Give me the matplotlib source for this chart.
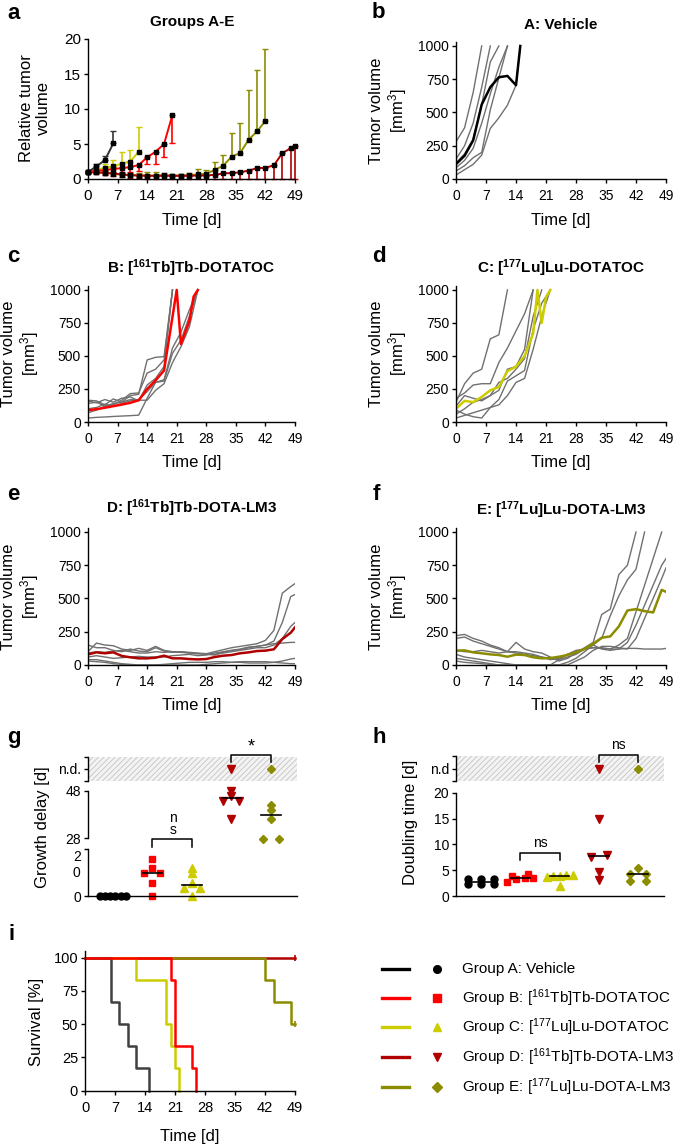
import numpy as np
import matplotlib
matplotlib.use('Agg')
import matplotlib.pyplot as plt

plt.rcParams['font.family'] = ['Liberation Sans', 'DejaVu Sans']
plt.rcParams['mathtext.fontset'] = 'custom'
plt.rcParams['mathtext.rm'] = 'Liberation Sans'
plt.rcParams['mathtext.it'] = 'Liberation Sans:italic'
plt.rcParams['mathtext.bf'] = 'Liberation Sans:bold'
plt.rcParams['hatch.linewidth'] = 0.6

W, H = 685, 1146

C_A = '#000000'
C_B = '#ff0000'
C_C = '#cccc00'
C_D = '#b00000'
C_E = '#8c8c00'
GREY = '#707070'

# ---- panel a: relative tumor volume (mean, one-sided SD) ----
a_days_A = [0, 2, 4, 6]
a_mean_A = [1.0, 1.8, 2.7, 5.1]
a_sd_A = [0.2, 0.3, 0.6, 1.8]
a_days_B = [0, 2, 4, 6, 8, 10, 12, 14, 16, 18, 20]
a_mean_B = [1.0, 1.2, 1.25, 1.45, 1.55, 1.7, 2.0, 3.1, 3.9, 5.0, 9.2]
a_sd_B = [0.2, 0.4, 0.45, 0.55, 0.6, 0.7, 0.9, 1.0, 1.8, 1.9, 4.1]
a_days_C = [0, 2, 4, 6, 8, 10, 12]
a_mean_C = [1.0, 1.3, 1.6, 1.8, 2.2, 2.5, 3.9]
a_sd_C = [0.2, 0.4, 0.6, 0.9, 1.7, 1.7, 3.5]
a_days_D = [0, 2, 4, 6, 8, 10, 12, 14, 16, 18, 20, 22, 24, 26, 28, 30, 32, 34, 36, 38, 40, 42, 44, 46, 48, 49]
a_mean_D = [1.0, 0.95, 0.9, 0.8, 0.65, 0.55, 0.5, 0.45, 0.45, 0.45, 0.45, 0.45, 0.45, 0.5, 0.5,
            0.6, 0.8, 0.85, 0.95, 1.2, 1.55, 1.6, 1.95, 3.7, 4.4, 4.75]
a_sd_D = [0.15, 0.3, 0.35, 0.4, 0.4, 0.4, 0.4, 0.4, 0.4, 0.4, 0.4, 0.4, 0.4, 0.5, 0.5,
          0.6, 0.8, 0.85, 0.95, 1.2, 1.55, 1.6, 1.95, 3.7, 4.4, 4.75]
a_days_E = [0, 2, 4, 6, 8, 10, 12, 14, 16, 18, 20, 22, 24, 26, 28, 30, 32, 34, 36, 38, 40, 42]
a_mean_E = [1.0, 0.95, 0.85, 0.75, 0.6, 0.55, 0.5, 0.5, 0.5, 0.55, 0.5, 0.5, 0.55, 0.65, 0.75,
            1.3, 1.9, 3.2, 3.7, 5.6, 6.8, 8.3]
a_sd_E = [0.1, 0.2, 0.3, 0.3, 0.3, 0.3, 0.4, 0.5, 0.5, 0.3, 0.2, 0.2, 0.3, 0.8, 0.6,
          1.1, 1.6, 3.4, 4.3, 7.1, 8.8, 10.3]

# ---- panel b: vehicle ----
b_days = [0, 2, 4, 6, 8, 10, 12, 14, 15]
b_mean = [112, 175, 290, 560, 690, 765, 775, 705, 1000]
b_mice = [
    [280, 385, 650, 1000],
    [150, 250, 420, 690, 1000],
    [120, 190, 300, 560, 880, 1000],
    [85, 140, 230, 420, 640, 840, 1000],
    [60, 100, 160, 200, 520, 760, 1000],
    [30, 70, 110, 180, 380, 460, 555, 705, 1000],
]

# ---- panel c: [161Tb]Tb-DOTATOC ----
c_days = [0, 2, 4, 6, 8, 10, 12, 14, 16, 18, 20, 22, 24, 26]
c_mean_days = [0, 2, 4, 6, 8, 10, 12, 14, 16, 18, 21, 22, 24, 25, 26]
c_mean = [90, 97, 108, 120, 132, 145, 165, 250, 315, 390, 1000, 590, 765, 950, 1000]
c_mice = [
    [165, 160, 130, 175, 150, 200, 210, 470, 490, 495, 1000],
    [140, 150, 120, 130, 165, 215, 220, 370, 400, 470, 1000],
    [160, 145, 170, 150, 180, 190, 160, 280, 330, 420, 1000],
    [100, 110, 135, 120, 140, 160, 170, 230, 300, 310, 520, 620, 800, 1000],
    [70, 90, 120, 140, 150, 170, 165, 165, 240, 290, 450, 570, 720, 1000],
    [30, 35, 38, 42, 45, 48, 52, 180, 300, 320, 560, 680, 850, 1000],
]

# ---- panel d: [177Lu]Lu-DOTATOC ----
d_days = [0, 2, 4, 6, 8, 10, 12, 14, 16, 18, 20, 22]
d_mean_days = [0, 2, 4, 6, 8, 10, 12, 14, 16, 18, 19, 20, 21, 22]
d_mean = [100, 160, 150, 190, 240, 265, 385, 420, 500, 670, 1000, 750, 945, 1000]
d_mice = [
    [150, 290, 370, 400, 630, 660, 1000],
    [180, 220, 280, 290, 290, 450, 560, 690, 820, 1000],
    [120, 200, 180, 160, 200, 240, 400, 420, 550, 1000],
    [60, 100, 150, 170, 200, 300, 330, 400, 480, 800, 1000],
    [30, 50, 70, 90, 110, 130, 200, 300, 330, 550, 800, 1000],
    [90, 60, 40, 30, 110, 170, 310, 350, 390, 700, 900, 1000],
]

# ---- panel e: [161Tb]Tb-DOTA-LM3 ----
e_days = [0, 2, 4, 6, 8, 10, 12, 14, 16, 18, 20, 22, 24, 26, 28, 30, 32, 34, 36, 38, 40, 42, 44, 46, 48, 49]
e_mean = [80, 95, 88, 95, 68, 58, 50, 50, 55, 70, 50, 50, 45, 42, 45, 60, 70, 75, 88, 95,
          105, 108, 118, 195, 243, 283]
e_mice = [
    [100, 165, 150, 145, 120, 110, 125, 110, 140, 110, 100, 100, 95, 90, 85, 100, 115, 130, 140, 150,
     160, 185, 260, 540, 590, 612],
    [150, 130, 130, 110, 100, 120, 105, 100, 130, 105, 95, 100, 90, 85, 80, 75, 95, 110, 120, 135,
     140, 150, 180, 320, 515, 530],
    [90, 100, 95, 105, 110, 100, 90, 90, 100, 95, 100, 95, 90, 85, 85, 80, 90, 100, 110, 120,
     130, 130, 150, 200, 290, 320],
    [60, 70, 60, 50, 55, 60, 65, 60, 60, 60, 70, 75, 80, 70, 75, 90, 100, 110, 115, 130,
     140, 150, 160, 165, 170, 170],
    [40, 40, 30, 20, 10, 5, 0, 0, 0, 5, 10, 15, 20, 20, 20, 25, 25, 20, 20, 15,
     15, 15, 20, 30, 45, 50],
    [30, 25, 20, 10, 5, 0, 0, 0, 0, 0, 0, 0, 0, 0, 5, 10, 15, 20, 25, 25,
     25, 25, 20, 15, 10, 10],
]

# ---- panel f: [177Lu]Lu-DOTA-LM3 ----
f_days = e_days
f_mean = [108, 110, 95, 88, 80, 75, 62, 78, 75, 58, 50, 52, 62, 75, 95, 120, 160, 205, 215, 290,
          410, 420, 405, 395, 565, 550]
f_mice = [
    [220, 230, 200, 180, 150, 130, 100, 170, 120, 100, 90, 60, 30, 50, 90, 130, 170, 380, 420, 680,
     750, 1000],
    [200, 210, 180, 160, 140, 120, 100, 90, 80, 70, 60, 50, 40, 60, 80, 120, 150, 200, 370, 520,
     640, 720, 1000],
    [110, 100, 100, 110, 100, 90, 100, 100, 90, 80, 60, 40, 50, 80, 100, 120, 130, 130, 120, 150,
     200, 400, 600, 800, 1000],
    [80, 60, 50, 40, 30, 20, 10, 0, 0, 0, 0, 0, 0, 20, 50, 100, 150, 120, 110, 120,
     170, 300, 450, 600, 750, 800],
    [50, 40, 30, 20, 10, 0, 0, 0, 0, 0, 0, 0, 0, 0, 30, 60, 110, 140, 140, 130,
     120, 200, 350, 500, 650, 730],
    [30, 20, 15, 10, 5, 0, 0, 0, 0, 0, 0, 0, 40, 80, 110, 120, 130, 125, 120, 120,
     125, 125, 120, 120, 120, 125],
]

# ---- panel g: growth delay [d] (inf = n.d.) ----
nd = np.inf
g_vals = [
    [0, 0, 0, 0, 0, 0],
    [15.6, 11.8, 9.7, 9.7, 5.6, 0],
    [11.8, 9.7, 5.6, 3.5, 3.5, 0],
    [nd, 46.0, 48.1, 43.7, 43.7, 36.0],
    [nd, 42.0, 39.9, 36.0, 27.6, 27.6],
]

# ---- panel h: doubling time [d] ----
h_vals = [
    [2.3, 2.3, 2.3, 3.2, 3.2, 3.3],
    [2.8, 3.2, 3.4, 3.5, 3.8, 4.3],
    [2.0, 3.6, 3.8, 3.9, 4.0, 4.1],
    [nd, 15.0, 7.9, 7.5, 4.7, 3.1],
    [nd, 5.5, 4.2, 4.2, 3.0, 3.0],
]

# ---- panel i: survival ----
surv_t = [
    [0, 6, 8, 10, 12, 15],
    [0, 20, 21, 25, 26],
    [0, 12, 19, 20, 21, 22],
    [0, 49],
    [0, 42, 44, 48, 49],
]
surv_p = [
    [100, 66.7, 50, 33.3, 16.7, 0],
    [100, 83.3, 33.3, 16.7, 0],
    [100, 83.3, 50, 33.3, 16.7, 0],
    [100, 100],
    [100, 83.3, 66.7, 50, 50],
]

legend_labels = [
    'Group A: Vehicle',
    r'Group B: [$^{161}$Tb]Tb-DOTATOC',
    r'Group C: [$^{177}$Lu]Lu-DOTATOC',
    r'Group D: [$^{161}$Tb]Tb-DOTA-LM3',
    r'Group E: [$^{177}$Lu]Lu-DOTA-LM3',
]
group_colors = [C_A, C_B, C_C, C_D, C_E]
group_markers = ['o', 's', '^', 'v', 'D']
group_msize = [5.0, 5.0, 5.5, 5.5, 4.2]

fig = plt.figure(figsize=(W / 100, H / 100), dpi=100)


def add_ax(l, t, r, b):
    ax = fig.add_axes([l / W, 1 - b / H, (r - l) / W, (b - t) / H])
    ax.patch.set_visible(False)
    return ax


def ftext(x, y, s, **kw):
    kw.setdefault('ha', 'center')
    kw.setdefault('va', 'center')
    return fig.text(x / W, 1 - y / H, s, **kw)


def style(ax, fs):
    for s in ['top', 'right']:
        ax.spines[s].set_visible(False)
    for s in ['left', 'bottom']:
        ax.spines[s].set_linewidth(1.0)
    ax.tick_params(length=3, width=1.0, labelsize=fs)
    ax.tick_params(axis='x', pad=4.5)
    ax.tick_params(axis='y', pad=2)


def time_axis(ax, fs):
    ax.set_xlim(0, 49)
    ax.set_xticks(range(0, 50, 7))
    style(ax, fs)


def tumor_panel(ax, days, mice, mean_days, mean, color):
    for m in mice:
        ax.plot(days[:len(m)], m, color=GREY, lw=1.0)
    ax.plot(mean_days, mean, color=color, lw=1.8)
    ax.set_ylim(0, 1030)
    ax.set_yticks([0, 250, 500, 750, 1000])
    time_axis(ax, 10)


def swarm_x(values, center, px_unit, px_x, bin_h=4.0, gap=16.0, maxw=26.0):
    vals = np.asarray(values, float)
    ypx = np.where(np.isinf(vals), 1e6, vals * px_unit)
    order = np.argsort(ypx, kind='stable')
    offs = np.zeros(len(vals))
    i = 0
    while i < len(order):
        j = i
        while j + 1 < len(order) and ypx[order[j + 1]] - ypx[order[i]] < bin_h:
            j += 1
        n = j - i + 1
        if n > 1:
            s = min(gap, maxw / (n - 1))
            for k in range(n):
                offs[order[i + k]] = (k - (n - 1) / 2) * s / px_x
        i = j + 1
    return center + offs


def bracket(ax, x0, x1, y, y_leg):
    ax.plot([x0, x0, x1, x1], [y_leg, y, y, y_leg], color='k', lw=1.1, clip_on=False)


# ---------------- panel a ----------------
ax = add_ax(88, 39, 295, 179)
series_a = [
    (a_days_E, a_mean_E, a_sd_E, C_E, 'up'),
    (a_days_D, a_mean_D, a_sd_D, C_D, 'down'),
    (a_days_C, a_mean_C, a_sd_C, C_C, 'up'),
    (a_days_A, a_mean_A, a_sd_A, '#333333', 'up'),
    (a_days_B, a_mean_B, a_sd_B, C_B, 'down'),
]
for days, mean, sd, col, side in series_a:
    zeros = [0] * len(sd)
    yerr = [zeros, sd] if side == 'up' else [sd, zeros]
    ax.errorbar(days, mean, yerr=yerr, fmt='-s', color=col, ecolor=col, mfc='k', mec='k',
                ms=2.3, lw=1.4, elinewidth=1.2, capsize=2.2, capthick=1.0, clip_on=False)
ax.set_ylim(0, 20)
ax.set_yticks([0, 5, 10, 15, 20])
time_axis(ax, 11)
ftext(192, 26, 'Groups A-E', fontsize=11, fontweight='bold', va='baseline')
ftext(35, 108, 'Relative tumor\nvolume', fontsize=12, rotation=90, linespacing=1.1)
ftext(192, 225, 'Time [d]', fontsize=12, va='baseline')

# ---------------- panels b-f ----------------
tumor_specs = [
    ((456, 42, 666, 179), b_days, b_mice, b_days, b_mean, C_A, 'A: Vehicle', 29, 225),
    ((88, 286, 295, 422), c_days, c_mice, c_mean_days, c_mean, C_B,
     r'B: [$^{\mathbf{161}}$Tb]Tb-DOTATOC', 273, 467),
    ((456, 286, 666, 422), d_days, d_mice, d_mean_days, d_mean, C_C,
     r'C: [$^{\mathbf{177}}$Lu]Lu-DOTATOC', 273, 467),
    ((88, 528, 295, 665), e_days, e_mice, e_days, e_mean, C_D,
     r'D: [$^{\mathbf{161}}$Tb]Tb-DOTA-LM3', 513, 710),
    ((456, 528, 666, 665), f_days, f_mice, f_days, f_mean, C_E,
     r'E: [$^{\mathbf{177}}$Lu]Lu-DOTA-LM3', 515, 710),
]
for box, days, mice, mdays, mean, col, title, ty, xy in tumor_specs:
    ax = add_ax(*box)
    tumor_panel(ax, days, mice, mdays, mean, col)
    cx = (box[0] + box[2]) / 2
    ftext(cx, ty, title, fontsize=11, fontweight='bold', va='baseline')
    ftext(box[0] - 67, (box[1] + box[3]) / 2, 'Tumor volume\n[mm$^3$]', fontsize=12,
          rotation=90, linespacing=1.1)
    ftext(cx, xy, 'Time [d]', fontsize=12, va='baseline')

# ---------------- panel g ----------------
gb = add_ax(88, 849, 297, 896)
gm = add_ax(88, 791, 297, 838)
gn = add_ax(88, 756.7, 297, 781)
for a_ in (gb, gm, gn):
    style(a_, 10)
    a_.set_xlim(0.37, 5.66)
    a_.set_xticks([])
for a_ in (gm, gn):
    a_.spines['bottom'].set_visible(False)
gb.set_ylim(0, 20)
gb.set_yticks([0, 20])
gb.set_yticklabels(['0', ''])
gb.text(-0.035, 16.6, '2', transform=gb.get_yaxis_transform(), ha='right', va='center', fontsize=10)
gb.text(-0.035, 9.8, '0', transform=gb.get_yaxis_transform(), ha='right', va='center', fontsize=10)
gm.set_ylim(28, 48)
gm.set_yticks([28, 48])
gn.set_ylim(0, 1)
gn.set_yticks([0, 0.5, 1])
gn.set_yticklabels(['', 'n.d.', ''])
gn.axhspan(0, 1, facecolor='#f3f3f3', edgecolor='#c4c4c4', hatch='//////', lw=0)

for i, vals in enumerate(g_vals):
    xs = swarm_x(vals, i + 1, 2.35, 39.5)
    for x, v in zip(xs, vals):
        if np.isinf(v):
            tgt, y = gn, 0.5
        elif v >= 25:
            tgt, y = gm, v
        else:
            tgt, y = gb, v
        tgt.plot(x, y, marker=group_markers[i], color=group_colors[i], ms=group_msize[i],
                 ls='none', clip_on=False)
    med = np.median(vals)
    tgt = gm if med >= 25 else gb
    tgt.plot([i + 1 - 0.25, i + 1 + 0.25], [med, med], color='k', lw=1.2, clip_on=False)

bracket(gb, 2, 3, 24.3, 21.0)
ftext(173, 824, 'n\ns', fontsize=10, linespacing=0.85)
bracket(gn, 4, 5, 1.07, 0.78)
gn.text(4.5, 1.38, '*', ha='center', va='center', fontsize=13)
ftext(42, 827, 'Growth delay [d]', fontsize=12, rotation=90)
ftext(7, 743, 'g', fontsize=16, fontweight='bold', ha='left', va='baseline')

# ---------------- panel h ----------------
hb = add_ax(456, 792.7, 664, 896)
hn = add_ax(456, 756, 664, 781)
for a_ in (hb, hn):
    style(a_, 10)
    a_.set_xlim(0.36, 5.66)
    a_.set_xticks([])
hn.spines['bottom'].set_visible(False)
hb.set_ylim(0, 20)
hb.set_yticks([0, 5, 10, 15, 20])
hn.set_ylim(0, 1)
hn.set_yticks([0, 0.5, 1])
hn.set_yticklabels(['', 'n.d', ''])
hn.axhspan(0, 1, facecolor='#f3f3f3', edgecolor='#c4c4c4', hatch='//////', lw=0)

for i, vals in enumerate(h_vals):
    xs = swarm_x(vals, i + 1, 5.17, 39.2)
    for x, v in zip(xs, vals):
        tgt, y = (hn, 0.5) if np.isinf(v) else (hb, v)
        tgt.plot(x, y, marker=group_markers[i], color=group_colors[i], ms=group_msize[i],
                 ls='none', clip_on=False)
    med = np.median(vals)
    hb.plot([i + 1 - 0.25, i + 1 + 0.25], [med, med], color='k', lw=1.2, clip_on=False)

bracket(hb, 2, 3, 8.3, 7.0)
hb.text(2.5, 10.3, 'ns', ha='center', va='center', fontsize=10)
bracket(hn, 4, 5, 1.04, 0.76)
hn.text(4.5, 1.44, 'ns', ha='center', va='center', fontsize=10)
ftext(410, 822, 'Doubling time [d]', fontsize=12, rotation=90)
ftext(373, 743, 'h', fontsize=16, fontweight='bold', ha='left', va='baseline')

# ---------------- panel i ----------------
ax = add_ax(85, 951, 295, 1090.7)
surv_colors = ['#404040', C_B, C_C, C_D, C_E]
for k in [3, 4, 2, 0, 1]:
    ax.step(surv_t[k], surv_p[k], where='post', color=surv_colors[k], lw=1.8, clip_on=False)
for k in [3, 4]:
    ax.plot(surv_t[k][-1], surv_p[k][-1], marker='|', ms=4, mew=1.2, color=surv_colors[k],
            clip_on=False)
ax.set_ylim(0, 105)
ax.set_yticks([0, 25, 50, 75, 100])
time_axis(ax, 10.5)
ftext(37, 1022, 'Survival [%]', fontsize=12, rotation=90)
ftext(190, 1141, 'Time [d]', fontsize=12, va='baseline')

# ---------------- legend ----------------
rows_y = [969, 998, 1027, 1057, 1087]
for k, y in enumerate(rows_y):
    yy = 1 - y / H
    fig.add_artist(plt.Line2D([382 / W, 409 / W], [yy, yy], color=group_colors[k], lw=2.4))
    fig.add_artist(plt.Line2D([437 / W], [yy], marker=group_markers[k], color=group_colors[k],
                              ms=group_msize[k] + 0.5, ls='none'))
    ftext(462, y, legend_labels[k], fontsize=11, ha='left')

# ---------------- panel letters ----------------
for lab, x, y in [('a', 7, 19), ('b', 372, 18), ('c', 7, 262), ('d', 372, 262),
                  ('e', 7, 500), ('f', 373, 500), ('i', 8, 940)]:
    ftext(x, y, lab, fontsize=16, fontweight='bold', ha='left', va='baseline')

fig.savefig('out.png', dpi=100)
